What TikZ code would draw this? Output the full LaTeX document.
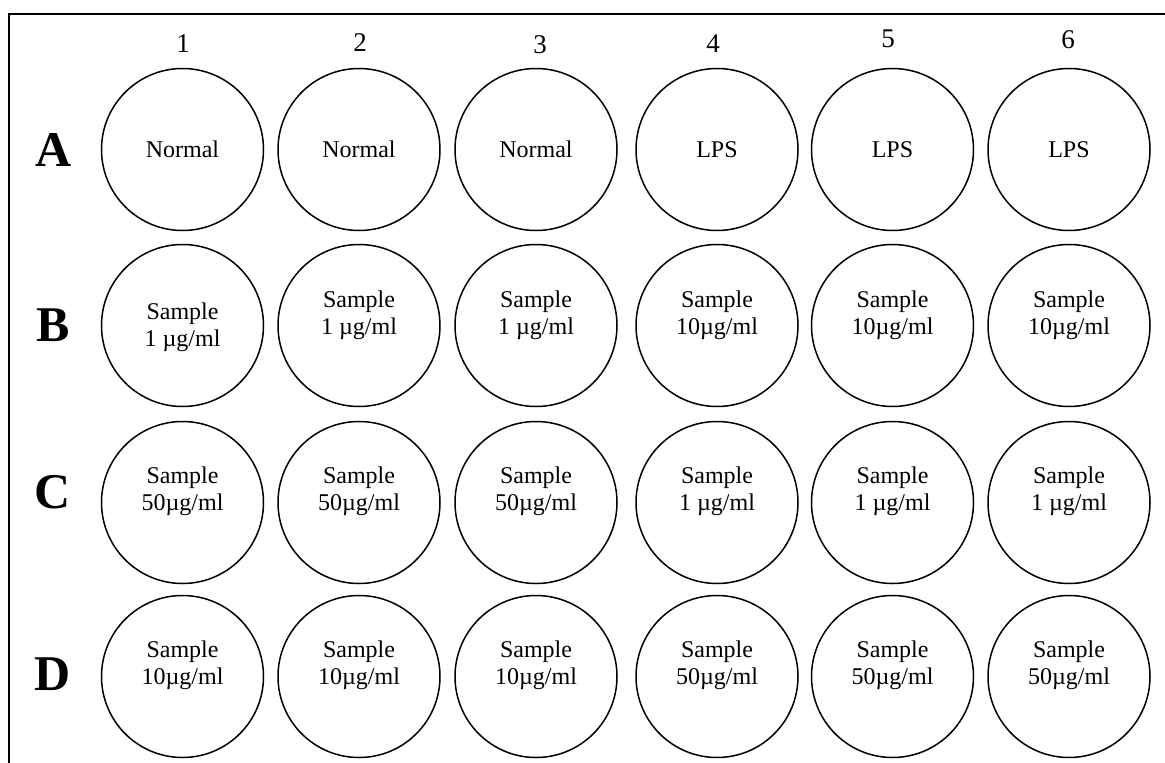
\documentclass[tikz,border=0pt]{standalone}
\usepackage{fontspec}
\setmainfont{Liberation Serif}
\begin{document}
\begin{tikzpicture}[x=1pt,y=-1pt,
  well/.style={circle,draw,line width=1.5pt,minimum size=162pt,inner sep=0pt},
  welltext/.style={font=\fontsize{24}{27}\selectfont,align=center,inner sep=0pt},
  colnum/.style={font=\fontsize{27}{30}\selectfont,inner sep=0pt},
  rowlab/.style={font=\fontsize{50}{54}\selectfont\bfseries,inner sep=0pt}]
\useasboundingbox (0,0) rectangle (1165,763);

% open frame: top edge and left edge
\draw[line width=2pt] (9,763) -- (9,14) -- (1165,14);

% the 24 wells
\foreach \c/\x in {1/182.5,2/359,3/536,4/717,5/892.5,6/1069}{
  \foreach \r/\y in {A/149.5,B/325.5,C/502.5,D/676.5}{
    \node[well] (w\r\c) at (\x,\y) {};
  }
}

% column numbers
\node[colnum] (col1) at (183,44) {1};
\node[colnum] (col2) at (360,43) {2};
\node[colnum] (col3) at (540,45) {3};
\node[colnum] (col4) at (713,44) {4};
\node[colnum] (col5) at (888,39) {5};
\node[colnum] (col6) at (1068,40) {6};

% row letters
\node[rowlab] (rowA) at (54,150) {A};
\node[rowlab] (rowB) at (53,325) {B};
\node[rowlab] (rowC) at (53,492) {C};
\node[rowlab] (rowD) at (53,674) {D};

% row A
\node[welltext] (tA1) at (wA1.center) {Normal};
\node[welltext] (tA2) at (wA2.center) {Normal};
\node[welltext] (tA3) at (wA3.center) {Normal};
\node[welltext] (tA4) at (wA4.center) {LPS};
\node[welltext] (tA5) at (wA5.center) {LPS};
\node[welltext] (tA6) at (wA6.center) {LPS};

% row B
\node[welltext] (tB1) at ([yshift=-2pt]wB1.center) {Sample\\1 µg/ml};
\node[welltext] (tB2) at ([yshift=10pt]wB2.center) {Sample\\1 µg/ml};
\node[welltext] (tB3) at ([yshift=10pt]wB3.center) {Sample\\1 µg/ml};
\node[welltext] (tB4) at ([yshift=10pt]wB4.center) {Sample\\10µg/ml};
\node[welltext] (tB5) at ([yshift=10pt]wB5.center) {Sample\\10µg/ml};
\node[welltext] (tB6) at ([yshift=10pt]wB6.center) {Sample\\10µg/ml};

% row C
\node[welltext] (tC1) at ([yshift=11pt]wC1.center) {Sample\\50µg/ml};
\node[welltext] (tC2) at ([yshift=11pt]wC2.center) {Sample\\50µg/ml};
\node[welltext] (tC3) at ([yshift=11pt]wC3.center) {Sample\\50µg/ml};
\node[welltext] (tC4) at ([yshift=11pt]wC4.center) {Sample\\1 µg/ml};
\node[welltext] (tC5) at ([yshift=11pt]wC5.center) {Sample\\1 µg/ml};
\node[welltext] (tC6) at ([yshift=11pt]wC6.center) {Sample\\1 µg/ml};

% row D
\node[welltext] (tD1) at ([yshift=11pt]wD1.center) {Sample\\10µg/ml};
\node[welltext] (tD2) at ([yshift=11pt]wD2.center) {Sample\\10µg/ml};
\node[welltext] (tD3) at ([yshift=11pt]wD3.center) {Sample\\10µg/ml};
\node[welltext] (tD4) at ([yshift=11pt]wD4.center) {Sample\\50µg/ml};
\node[welltext] (tD5) at ([yshift=11pt]wD5.center) {Sample\\50µg/ml};
\node[welltext] (tD6) at ([yshift=11pt]wD6.center) {Sample\\50µg/ml};
\end{tikzpicture}
\end{document}
